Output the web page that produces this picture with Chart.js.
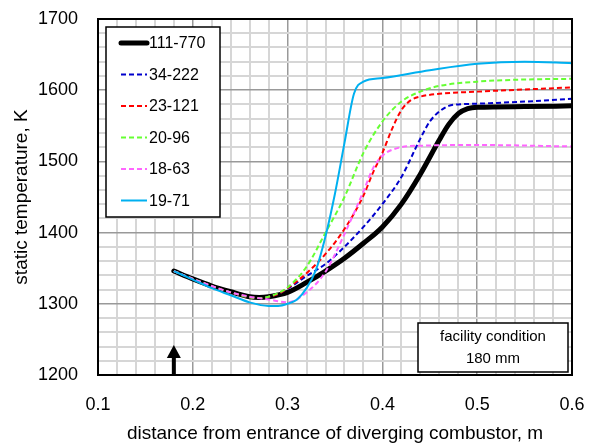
<!DOCTYPE html>
<html>
<head>
<meta charset="utf-8">
<script src="https://cdn.jsdelivr.net/npm/chart.js@4.4.1/dist/chart.umd.min.js"></script>
<style>
  html, body { margin: 0; padding: 0; background: #fff; }
  #wrap { width: 593px; height: 447px; }
</style>
</head>
<body>
<div id="wrap"><canvas id="myChart" width="593" height="447"></canvas></div>
<script>
const seriesNames = ['111-770', '34-222', '23-121', '20-96', '18-63', '19-71']

// distance (m) and static temperature (K) per case
const x111 = [0.18, 0.20, 0.22, 0.24, 0.26, 0.27, 0.28, 0.30, 0.32, 0.34, 0.36, 0.38, 0.40, 0.42, 0.44, 0.46, 0.47, 0.48, 0.49, 0.50, 0.55, 0.60]
const t111 = [1346, 1335, 1325, 1317, 1310, 1309, 1310, 1316, 1330, 1346, 1364, 1385, 1408, 1440, 1482, 1530, 1552, 1567, 1574, 1576, 1577, 1578]

const x34 = [0.18, 0.20, 0.24, 0.27, 0.29, 0.30, 0.32, 0.34, 0.36, 0.38, 0.40, 0.42, 0.44, 0.45, 0.46, 0.47, 0.48, 0.50, 0.55, 0.60]
const t34 = [1346, 1335, 1316, 1308, 1314, 1321, 1339, 1356, 1380, 1408, 1440, 1478, 1532, 1556, 1570, 1578, 1580, 1581, 1584, 1588]

const x23 = [0.18, 0.20, 0.24, 0.27, 0.29, 0.30, 0.32, 0.34, 0.36, 0.38, 0.39, 0.40, 0.41, 0.42, 0.43, 0.44, 0.46, 0.50, 0.55, 0.60]
const t23 = [1346, 1335, 1316, 1308, 1314, 1322, 1343, 1370, 1405, 1452, 1484, 1512, 1545, 1572, 1586, 1591, 1595, 1598, 1601, 1604]

const x20 = [0.18, 0.20, 0.24, 0.27, 0.29, 0.30, 0.32, 0.34, 0.36, 0.38, 0.40, 0.42, 0.44, 0.46, 0.50, 0.55, 0.60]
const t20 = [1346, 1335, 1316, 1308, 1315, 1323, 1352, 1400, 1450, 1512, 1556, 1584, 1598, 1606, 1612, 1615, 1616]

const x18 = [0.18, 0.20, 0.24, 0.26, 0.28, 0.30, 0.32, 0.34, 0.36, 0.38, 0.39, 0.40, 0.42, 0.44, 0.50, 0.60]
const t18 = [1346, 1335, 1316, 1310, 1306, 1302, 1316, 1345, 1398, 1458, 1490, 1508, 1520, 1522, 1523, 1521]

const x19 = [0.18, 0.20, 0.22, 0.24, 0.26, 0.28, 0.29, 0.30, 0.31, 0.32, 0.33, 0.34, 0.35, 0.36, 0.37, 0.38, 0.40, 0.45, 0.50, 0.55, 0.60]
const t19 = [1346, 1334, 1322, 1312, 1302, 1297, 1297, 1300, 1306, 1322, 1348, 1395, 1455, 1526, 1595, 1612, 1617, 1628, 1637, 1640, 1638]

const noteLines = ['facility condition', '180 mm']
const arrowAt = 0.18

const fontFam = '"Liberation Sans", Arial, sans-serif'

function toPoints(xs, ts) {
    let pts = []
    xs.forEach((x, i) => {
        pts.push({x: x, y: ts[i]})
    })
    return pts
}

function makeSet(i, xs, ts, color, width, dash, order) {
    return {
        label: seriesNames[i],
        data: toPoints(xs, ts),
        borderColor: color,
        borderWidth: width,
        borderDash: dash,
        borderCapStyle: width > 3 ? 'round' : 'butt',
        pointRadius: 0,
        fill: false,
        cubicInterpolationMode: 'monotone',
        order: order
    }
}

const datasets = [
    makeSet(0, x111, t111, '#000000', 5, [], 6),
    makeSet(1, x34, t34, '#0000cc', 2, [5, 3], 5),
    makeSet(2, x23, t23, '#ff0000', 2, [5, 3], 4),
    makeSet(3, x20, t20, '#66ff33', 2, [5, 3], 3),
    makeSet(4, x18, t18, '#ff66ff', 2, [5, 3], 2),
    makeSet(5, x19, t19, '#00b0f0', 2, [], 1)
]

const decorations = {
    id: 'decorations',
    afterDatasetsDraw(chart) {
        const ctx = chart.ctx
        const a = chart.chartArea
        const xs = chart.scales.x
        ctx.save()
        // arrow
        const ax = xs.getPixelForValue(arrowAt)
        ctx.fillStyle = '#000'
        ctx.fillRect(ax - 2, a.bottom - 18, 4, 18)
        ctx.beginPath()
        ctx.moveTo(ax, a.bottom - 30)
        ctx.lineTo(ax - 7, a.bottom - 17)
        ctx.lineTo(ax + 7, a.bottom - 17)
        ctx.closePath()
        ctx.fill()

        // frame
        ctx.strokeStyle = '#000'
        ctx.lineWidth = 2
        ctx.strokeRect(a.left, a.top, a.right - a.left, a.bottom - a.top)

        // legend box
        const lx = a.left + 8, ly = a.top + 8, lw = 114, lh = 190
        ctx.fillStyle = '#fff'
        ctx.fillRect(lx, ly, lw, lh)
        ctx.lineWidth = 1.5
        ctx.strokeRect(lx, ly, lw, lh)
        ctx.font = '16px ' + fontFam
        ctx.textBaseline = 'middle'
        ctx.textAlign = 'left'
        chart.data.datasets.forEach((ds, i) => {
            const y = ly + 16 + i * 31.5
            ctx.beginPath()
            ctx.strokeStyle = ds.borderColor
            ctx.lineWidth = ds.borderWidth
            ctx.setLineDash(ds.borderDash)
            ctx.lineCap = ds.borderWidth > 3 ? 'round' : 'butt'
            ctx.moveTo(lx + 15, y)
            ctx.lineTo(lx + 41, y)
            ctx.stroke()
            ctx.setLineDash([])
            ctx.fillStyle = '#000'
            ctx.fillText(ds.label, lx + 43, y + 1)
        })

        // note box
        const bx = a.right - 154, by = a.bottom - 52, bw = 150, bh = 49
        ctx.fillStyle = '#fff'
        ctx.fillRect(bx, by, bw, bh)
        ctx.strokeStyle = '#000'
        ctx.lineWidth = 1.5
        ctx.strokeRect(bx, by, bw, bh)
        ctx.fillStyle = '#000'
        ctx.textAlign = 'center'
        ctx.font = '15px ' + fontFam
        ctx.fillText(noteLines[0], bx + bw / 2, by + 14)
        ctx.fillText(noteLines[1], bx + bw / 2, by + 36)
        ctx.restore()
    }
}

function isMajor(v, step) {
    return Math.abs(v / step - Math.round(v / step)) < 1e-6
}

let ctx = document.getElementById('myChart')
let myChart = new Chart(ctx, {
    type: 'line',
    data: { datasets: datasets },
    options: {
        responsive: false,
        animation: false,
        layout: { padding: { left: 0, right: 21, top: 19, bottom: 0 } },
        plugins: {
            legend: { display: false },
            tooltip: { enabled: false }
        },
        scales: {
            x: {
                type: 'linear',
                min: 0.1,
                max: 0.6,
                afterFit: function(scale) {
                    scale.height = 72
                    scale.paddingLeft = 0
                    scale.paddingRight = 0
                },
                ticks: {
                    stepSize: 0.02,
                    autoSkip: false,
                    maxRotation: 0,
                    padding: 19,
                    color: '#000',
                    font: { family: fontFam, size: 18 },
                    callback: function(v) { return isMajor(v, 0.1) ? v.toFixed(1) : '' }
                },
                grid: {
                    drawTicks: false,
                    color: c => isMajor(c.tick.value, 0.1) ? '#999999' : '#d6d6d6',
                    lineWidth: c => isMajor(c.tick.value, 0.1) ? 1.5 : 2
                },
                border: { color: '#000', width: 2 },
                title: {
                    display: true,
                    text: 'distance from entrance of diverging combustor, m',
                    color: '#000',
                    font: { family: fontFam, size: 19 },
                    padding: { top: 0, bottom: 2 }
                }
            },
            y: {
                min: 1200,
                max: 1700,
                afterFit: function(scale) {
                    scale.width = 98
                    scale.paddingTop = 0
                    scale.paddingBottom = 0
                },
                ticks: {
                    stepSize: 20,
                    autoSkip: false,
                    padding: 20,
                    color: '#000',
                    font: { family: fontFam, size: 18 },
                    callback: function(v) { return isMajor(v, 100) ? String(v) : '' }
                },
                grid: {
                    drawTicks: false,
                    color: c => isMajor(c.tick.value, 100) ? '#999999' : '#d6d6d6',
                    lineWidth: c => isMajor(c.tick.value, 100) ? 1.5 : 2
                },
                border: { color: '#000', width: 2 },
                title: {
                    display: true,
                    text: 'static temperature, K',
                    color: '#000',
                    font: { family: fontFam, size: 19 },
                    padding: { top: 10, bottom: 0 }
                }
            }
        }
    },
    plugins: [decorations]
})
</script>
</body>
</html>
